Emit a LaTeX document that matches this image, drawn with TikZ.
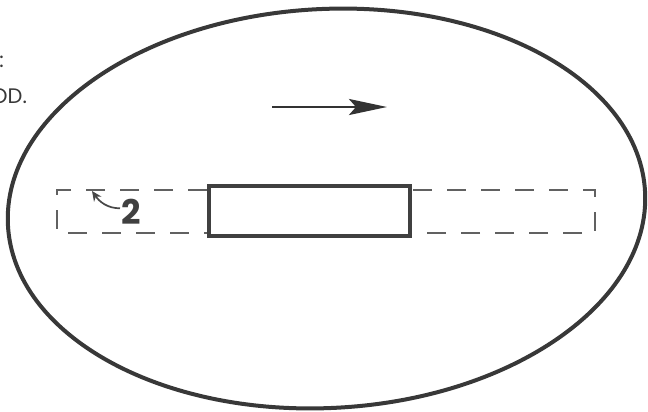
\documentclass[tikz,border=0pt]{standalone}
\usepackage{fontspec}
\newfontfamily\gothic{Poppins}
\usetikzlibrary{arrows.meta}

\tikzset{
	outline/.style={draw=black!78, line width=4pt},
	window/.style={draw=black!75, line width=4pt},
	guide/.style={draw=black!62, line width=1.9pt, dash pattern=on 19pt off 15pt},
}

\begin{document}
\begin{tikzpicture}[x=1pt,y=-1pt]

	\useasboundingbox (0,0) rectangle (648,412);

	%%OUTER BOUNDARY---------------------------------------------
	\draw [outline, rotate around={3:(326.5,208.5)}] (326.5,208.5) ellipse [x radius=319, y radius=199.5];

	%%DASHED STRIP----------------------------------------------
	%left part
	\draw [guide] (207,190) -- (57,190) -- (57,233) -- (207,233);
	%right part
	\draw [guide] (413,190) -- (595,190) -- (595,233) -- (413,233);

	%%SOLID BOX-------------------------------------------------
	\draw [window, fill=white] (209,186) rectangle (410,235.5);

	%%FLOW ARROW------------------------------------------------
	\coordinate (flowtail) at (272,107);
	\coordinate (flowtip) at (387,107);
	\draw [-{Stealth[length=38pt,width=16pt,inset=7pt]}, line width=2.8pt, draw=black!80, fill=black!80] (flowtail) -- (flowtip);

	% Text Node
	\node (two) [anchor=base west, inner sep=0pt, text=black!75] at (121,224) {\gothic\fontsize{34}{34}\selectfont\bfseries 2};
	\coordinate (twotip) at (92,191);
	\draw [-{Stealth[length=10pt,width=9pt]}, line width=1.7pt, draw=black!72] (two.west) ++(-1,-3) to [out=180, in=-55] (twotip);

	% Text Node
	\node (colon) [anchor=base east, inner sep=0pt, text=black!78] at (4,68) {\gothic\fontsize{21}{21}\selectfont :};
	% Text Node
	\node (tail) [anchor=base west, inner sep=0pt, text=black!78] at (-9,103) {\gothic\fontsize{21}{21}\selectfont OD.};

\end{tikzpicture}
\end{document}
